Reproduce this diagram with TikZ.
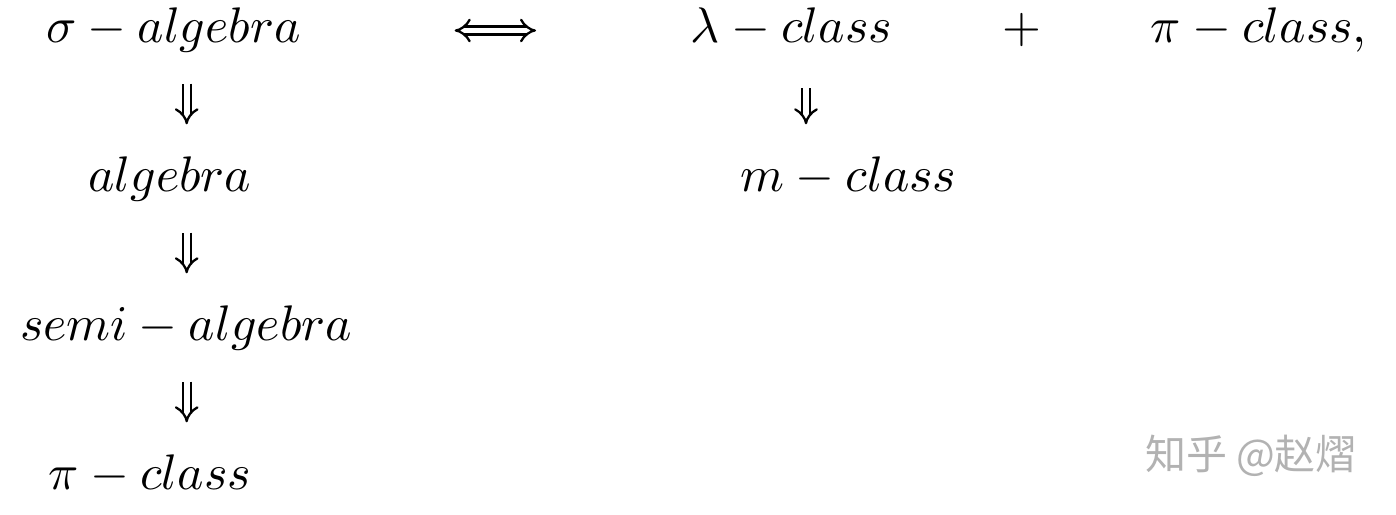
\documentclass[tikz,border=0pt]{standalone}
\usepackage{fontspec}
\newfontfamily\cjk{Noto Sans CJK SC}
\usetikzlibrary{arrows.meta}
\begin{document}
\begin{tikzpicture}[x=0.02cm,y=0.02cm,
    every node/.style={scale=2.845,inner sep=0pt},
    imp/.style={double,double distance=3.3pt,line width=1.3pt},
    tip/.tip={Implies[length=9.5pt,width=16pt]}]
      \useasboundingbox (0,0) rectangle (1396,514) ;
      \node[anchor=base] (sigA) at (173.5,471) {$\sigma-algebra$} ;
      \node[anchor=base] (lam) at (791.5,471) {$\lambda-class$} ;
      \node[anchor=base] (plus) at (1021.5,471) {$+$} ;
      \node[anchor=base] (piA) at (1259,471) {$\pi-class,$} ;
      \node[anchor=base] (alg) at (170,322) {$algebra$} ;
      \node[anchor=base] (mC) at (848.5,322) {$m-class$} ;
      \node[anchor=base] (semi) at (186,173) {$semi-algebra$} ;
      \node[anchor=base] (piC) at (150,24) {$\pi-class$} ;
      \node[text=black!30] (mark) at (1251,58) %
      {\fontsize{8.2}{10}\cjk 知乎 @赵熠} ;
      \coordinate (c1) at (186.7,0) ;
      \coordinate (c2) at (806,0) ;
      \draw[imp,tip-tip,shorten <=3.06cm,shorten >=3.08cm] %
      (sigA.east |- plus) -- (lam.west |- plus) ;
      \draw[imp,-tip,shorten <=0.6cm,shorten >=0.64cm] (sigA.south -| c1) -- (alg.north -| c1) ;
      \draw[imp,-tip,shorten <=0.6cm,shorten >=0.64cm] (alg.south -| c1) -- (semi.north -| c1) ;
      \draw[imp,-tip,shorten <=0.6cm,shorten >=0.64cm] (semi.south -| c1) -- (piC.north -| c1) ;
      \draw[imp,-tip,shorten <=0.8cm,shorten >=0.64cm] (lam.south -| c2) -- (mC.north -| c2) ;
    \end{tikzpicture}
\end{document}
